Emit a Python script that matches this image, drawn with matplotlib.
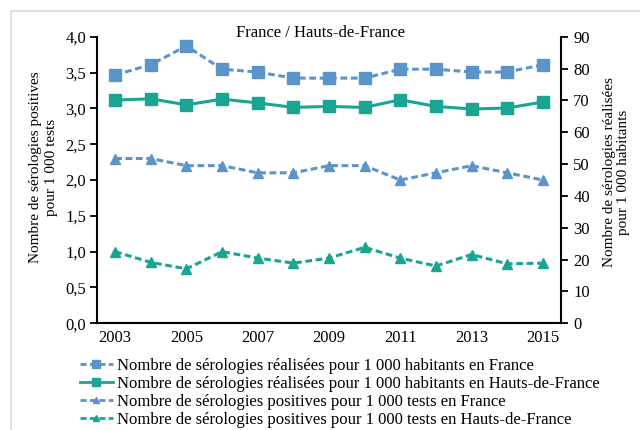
import matplotlib
matplotlib.use("Agg")
import matplotlib.pyplot as plt
from matplotlib.lines import Line2D
from matplotlib.patches import Rectangle

years = [2003, 2004, 2005, 2006, 2007, 2008, 2009, 2010, 2011, 2012, 2013, 2014, 2015]
realisees_france = [78.0, 81.2, 87.1, 79.8, 78.9, 77.0, 77.0, 77.0, 79.8, 79.8, 78.9, 78.9, 81.2]
realisees_hdf = [70.1, 70.5, 68.6, 70.4, 69.2, 67.8, 68.1, 67.8, 70.2, 68.1, 67.3, 67.6, 69.5]
positives_france = [2.30, 2.30, 2.20, 2.20, 2.10, 2.10, 2.20, 2.20, 2.00, 2.10, 2.20, 2.10, 2.00]
positives_hdf = [1.00, 0.85, 0.76, 1.00, 0.91, 0.84, 0.91, 1.06, 0.91, 0.80, 0.96, 0.83, 0.84]

left_ticks = [0, 0.5, 1.0, 1.5, 2.0, 2.5, 3.0, 3.5, 4.0]
left_ticklabels = ["0,0", "0,5", "1,0", "1,5", "2,0", "2,5", "3,0", "3,5", "4,0"]
right_ticks = [0, 10, 20, 30, 40, 50, 60, 70, 80, 90]
x_ticks = [2003, 2005, 2007, 2009, 2011, 2013, 2015]

labels = [
    "Nombre de sérologies réalisées pour 1 000 habitants en France",
    "Nombre de sérologies réalisées pour 1 000 habitants en Hauts-de-France",
    "Nombre de sérologies positives pour 1 000 tests en France",
    "Nombre de sérologies positives pour 1 000 tests en Hauts-de-France",
]

BLUE = "#5b94c9"
TEAL = "#1aa593"
DASH = (0, (2.2, 1.2))

plt.rcParams["font.family"] = ["Liberation Serif", "DejaVu Serif"]

W, H = 640, 430
fig = plt.figure(figsize=(6.4, 4.3), dpi=100)
fig.patches.append(Rectangle((11 / W, -0.1), 1.0, 1 - 11 / H + 0.1,
                             transform=fig.transFigure, fill=False,
                             edgecolor="#d9d9d9", linewidth=1.2, zorder=0))

ax = fig.add_axes([97.3 / W, 1 - 323.3 / H, (560.7 - 97.3) / W, (323.3 - 36.7) / H])
ax2 = ax.twinx()

ax2.plot(years, realisees_france, color=BLUE, linestyle=DASH, linewidth=2.2,
         marker="s", markersize=8.5, clip_on=False)
ax2.plot(years, realisees_hdf, color=TEAL, linestyle="-", linewidth=2.2,
         marker="s", markersize=8.5, clip_on=False)
ax.plot(years, positives_france, color=BLUE, linestyle=DASH, linewidth=2.2,
        marker="^", markersize=7, clip_on=False)
ax.plot(years, positives_hdf, color=TEAL, linestyle=DASH, linewidth=2.2,
        marker="^", markersize=7, clip_on=False)

ax.set_xlim(2002.5, 2015.5)
ax.set_ylim(0, 4)
ax2.set_ylim(0, 90)
ax.set_yticks(left_ticks)
ax.set_yticklabels(left_ticklabels)
ax2.set_yticks(right_ticks)
ax.set_xticks(x_ticks)
ax.set_xticklabels([str(y) for y in x_ticks])

for a in (ax, ax2):
    for s in a.spines.values():
        s.set_linewidth(1.5)
    a.spines["top"].set_visible(False)
ax.spines["right"].set_visible(False)
ax2.spines["left"].set_visible(False)
ax2.spines["bottom"].set_visible(False)

ax.tick_params(axis="y", direction="out", length=5, width=1.3, labelsize=12, pad=3)
ax2.tick_params(axis="y", direction="out", length=5, width=1.3, labelsize=12, pad=4)
ax.tick_params(axis="x", length=0, labelsize=12, pad=5)

fig.text(43.5 / W, 1 - 167 / H, "Nombre de sérologies positives\npour 1 000 tests",
         rotation=90, ha="center", va="center", multialignment="center",
         fontsize=11, linespacing=1.2)
fig.text(616.5 / W, 1 - 172 / H, "Nombre de sérologies réalisées\npour 1 000 habitants",
         rotation=90, ha="center", va="center", multialignment="center",
         fontsize=11, linespacing=1.2)

fig.text(0.5, 1 - 32.7 / H, "France / Hauts-de-France", ha="center", va="center", fontsize=12)

handles = [
    Line2D([], [], color=BLUE, linestyle=DASH, linewidth=2, marker="s", markersize=6),
    Line2D([], [], color=TEAL, linestyle="-", linewidth=2, marker="s", markersize=6),
    Line2D([], [], color=BLUE, linestyle=DASH, linewidth=2, marker="^", markersize=5),
    Line2D([], [], color=TEAL, linestyle=DASH, linewidth=2, marker="^", markersize=5),
]
fig.legend(handles, labels, loc="upper left", bbox_to_anchor=(80 / W, 1 - 358 / H),
           frameon=False, fontsize=12, handlelength=1.95, handletextpad=0.25,
           labelspacing=0.12, borderpad=0, borderaxespad=0)

fig.savefig("out.png", dpi=100)
